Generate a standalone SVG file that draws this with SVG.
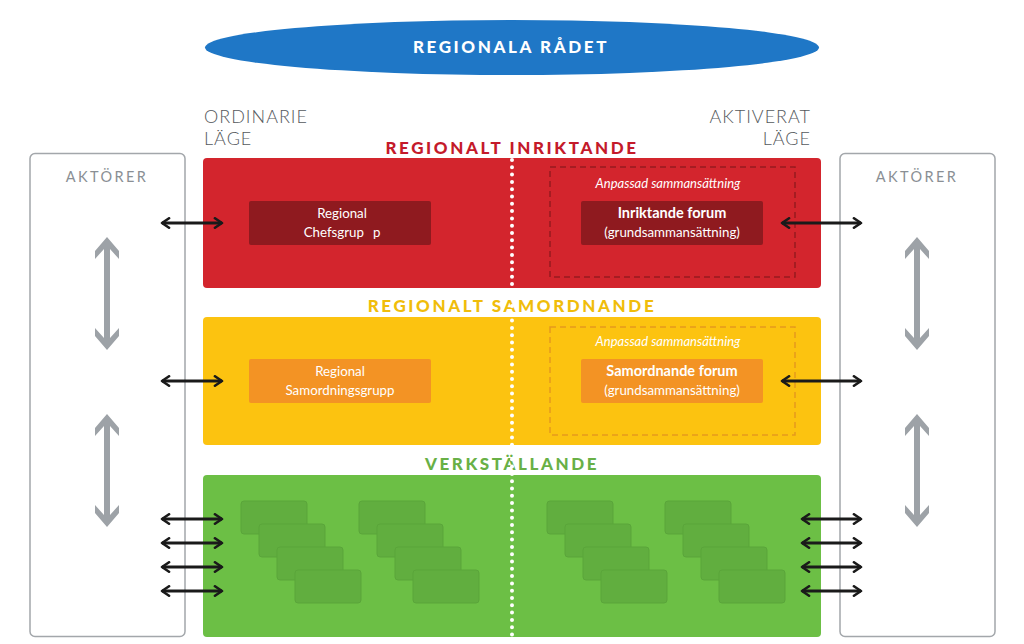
<svg xmlns="http://www.w3.org/2000/svg" width="1024" height="644" viewBox="0 0 1024 644">
<style>
.hdr{font-family:Lato,"Open Sans",sans-serif;font-weight:900;font-size:17px;letter-spacing:2.6px;text-anchor:middle}
.mode{font-family:Lato,"Open Sans",sans-serif;font-weight:300;font-size:18px;fill:#55595d;letter-spacing:1px}
.akt{font-family:Lato,"Open Sans",sans-serif;font-size:14.5px;fill:#8a8f94;letter-spacing:2.4px;text-anchor:middle}
.lbl{font-family:Lato,"Open Sans",sans-serif;font-size:13.3px;fill:#ffffff;text-anchor:middle}
.lblb{font-family:Lato,"Open Sans",sans-serif;font-size:14.5px;font-weight:700;fill:#ffffff;text-anchor:middle}
.ital{font-family:Lato,"Open Sans",sans-serif;font-size:13px;font-style:italic;fill:#ffffff;text-anchor:middle}
.blk{stroke:#1a1a1a;stroke-width:2.8;fill:none;marker-start:url(#chev);marker-end:url(#chev)}
.gray{fill:#9da2a7}
.panel{fill:#ffffff;stroke:#a3a7ab;stroke-width:1.5}
.sub{fill:#61ae3f;stroke:#5aa53a;stroke-width:1}
.dots{stroke:#ffffff;stroke-width:4;stroke-linecap:round;stroke-dasharray:0 7.3}
</style>
<defs>
<marker id="chev" viewBox="0 0 10 10" refX="8.5" refY="5" markerWidth="4.2" markerHeight="4.2" orient="auto-start-reverse" markerUnits="strokeWidth">
<path d="M2.5,1 L8.5,5 L2.5,9" fill="none" stroke="#1a1a1a" stroke-width="2.2" stroke-linecap="round" stroke-linejoin="round"/>
</marker>
</defs>

<g id="regionala-radet">
<ellipse cx="512" cy="47.5" rx="307" ry="27.5" fill="#1f77c6"/>
<text x="511" y="53" class="hdr" fill="#ffffff">REGIONALA RÅDET</text>
</g>

<g id="mode-labels">
<text x="204" y="123" class="mode">ORDINARIE</text>
<text x="204" y="145" class="mode">LÄGE</text>
<text x="811" y="123" class="mode" text-anchor="end">AKTIVERAT</text>
<text x="811" y="145" class="mode" text-anchor="end">LÄGE</text>
</g>

<g id="aktorer-left">
<rect x="30" y="153.5" width="155" height="483" rx="5" class="panel"/>
<text x="107" y="182" class="akt">AKTÖRER</text>
</g>
<g id="aktorer-right">
<rect x="840" y="153.5" width="155" height="483" rx="5" class="panel"/>
<text x="917" y="182" class="akt">AKTÖRER</text>
</g>

<g id="inriktande">
<text x="512" y="154" class="hdr" fill="#c41a2a">REGIONALT INRIKTANDE</text>
<rect x="203" y="158" width="618" height="130" rx="4" fill="#d3252d"/>
<rect x="249" y="201" width="182" height="44" rx="2" fill="#8f1a1f"/>
<text x="342" y="218" class="lbl">Regional</text>
<text x="342" y="237" class="lbl">Chefsgrup<tspan dx="9">p</tspan></text>
<rect x="550" y="167" width="245" height="110" fill="none" stroke="#981a1f" stroke-width="1.5" stroke-dasharray="6 4"/>
<text x="668" y="188" class="ital">Anpassad sammansättning</text>
<rect x="581" y="201" width="182" height="44" rx="2" fill="#8f1a1f"/>
<text x="672" y="218" class="lblb">Inriktande forum</text>
<text x="672" y="237" class="lbl">(grundsammansättning)</text>
</g>

<g id="samordnande">
<text x="512" y="312" class="hdr" fill="#f0bd0a">REGIONALT SAMORDNANDE</text>
<rect x="203" y="317" width="618" height="128" rx="4" fill="#fcc310"/>
<rect x="249" y="359" width="182" height="44" rx="2" fill="#f39324"/>
<text x="340" y="376" class="lbl">Regional</text>
<text x="340" y="395" class="lbl">Samordningsgrupp</text>
<rect x="550" y="327" width="245" height="108" fill="none" stroke="#e59a1c" stroke-width="1.5" stroke-dasharray="6 4"/>
<text x="668" y="346" class="ital">Anpassad sammansättning</text>
<rect x="581" y="359" width="182" height="44" rx="2" fill="#f39324"/>
<text x="672" y="376" class="lblb">Samordnande forum</text>
<text x="672" y="395" class="lbl">(grundsammansättning)</text>
</g>

<g id="verkstallande">
<text x="512" y="470" class="hdr" fill="#68b046">VERKSTÄLLANDE</text>
<rect x="203" y="475" width="618" height="162" rx="4" fill="#6cbf45"/>
<g id="sub-a">
<rect x="241" y="501" width="66" height="33" rx="3" class="sub"/>
<rect x="259" y="524" width="66" height="33" rx="3" class="sub"/>
<rect x="277" y="547" width="66" height="33" rx="3" class="sub"/>
<rect x="295" y="570" width="66" height="33" rx="3" class="sub"/>
</g>
<g id="sub-b">
<rect x="359" y="501" width="66" height="33" rx="3" class="sub"/>
<rect x="377" y="524" width="66" height="33" rx="3" class="sub"/>
<rect x="395" y="547" width="66" height="33" rx="3" class="sub"/>
<rect x="413" y="570" width="66" height="33" rx="3" class="sub"/>
</g>
<g id="sub-c">
<rect x="547" y="501" width="66" height="33" rx="3" class="sub"/>
<rect x="565" y="524" width="66" height="33" rx="3" class="sub"/>
<rect x="583" y="547" width="66" height="33" rx="3" class="sub"/>
<rect x="601" y="570" width="66" height="33" rx="3" class="sub"/>
</g>
<g id="sub-d">
<rect x="665" y="501" width="66" height="33" rx="3" class="sub"/>
<rect x="683" y="524" width="66" height="33" rx="3" class="sub"/>
<rect x="701" y="547" width="66" height="33" rx="3" class="sub"/>
<rect x="719" y="570" width="66" height="33" rx="3" class="sub"/>
</g>
</g>

<g id="divider">
<line x1="512" y1="160" x2="512" y2="637" class="dots"/>
</g>

<g id="connectors">
<line x1="162" y1="223" x2="222" y2="223" class="blk"/>
<line x1="782" y1="223" x2="861" y2="223" class="blk"/>
<line x1="162" y1="381" x2="222" y2="381" class="blk"/>
<line x1="782" y1="381" x2="861" y2="381" class="blk"/>
<line x1="162" y1="519" x2="222" y2="519" class="blk"/>
<line x1="162" y1="543" x2="222" y2="543" class="blk"/>
<line x1="162" y1="567" x2="222" y2="567" class="blk"/>
<line x1="162" y1="591" x2="222" y2="591" class="blk"/>
<line x1="802" y1="519" x2="861" y2="519" class="blk"/>
<line x1="802" y1="543" x2="861" y2="543" class="blk"/>
<line x1="802" y1="567" x2="861" y2="567" class="blk"/>
<line x1="802" y1="591" x2="861" y2="591" class="blk"/>
<path class="gray" d="M107,237 L119,251 L119,259 L110,249 L110,338 L119,328 L119,336 L107,350 L95,336 L95,328 L104,338 L104,249 L95,259 L95,251 Z"/>
<path class="gray" d="M107,414 L119,428 L119,436 L110,426 L110,515 L119,505 L119,513 L107,527 L95,513 L95,505 L104,515 L104,426 L95,436 L95,428 Z"/>
<path class="gray" d="M917,237 L929,251 L929,259 L920,249 L920,338 L929,328 L929,336 L917,350 L905,336 L905,328 L914,338 L914,249 L905,259 L905,251 Z"/>
<path class="gray" d="M917,414 L929,428 L929,436 L920,426 L920,515 L929,505 L929,513 L917,527 L905,513 L905,505 L914,515 L914,426 L905,436 L905,428 Z"/>
</g>
</svg>
